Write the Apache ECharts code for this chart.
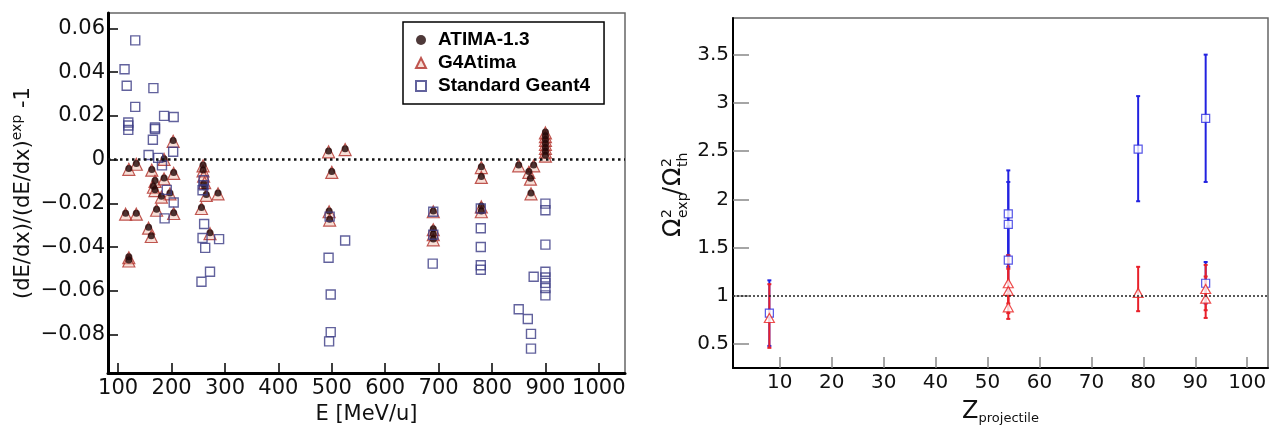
<!DOCTYPE html>
<html>
<head>
<meta charset="utf-8">
<script src="https://cdn.jsdelivr.net/npm/echarts@6/dist/echarts.min.js"></script>
<style>
	html, body { margin: 0; padding: 0; background: #fff; }
	#main { width: 1270px; height: 430px; }
</style>
</head>
<body>
<div id="main"></div>
<script>
	// 左图: 刻度
	var energyTicks = [100, 200, 300, 400, 500, 600, 700, 800, 900, 1000];
	var ratioTicks = [-0.08, -0.06, -0.04, -0.02, 0, 0.02, 0.04, 0.06];
	var legendNames = ['ATIMA-1.3', 'G4Atima', 'Standard Geant4'];

	// 左图: [E (MeV/u), (dE/dx)/(dE/dx)exp - 1]
	var atimaPoints = [
		[120, -0.0040], [134, -0.0018], [114, -0.0245], [134, -0.0245], [120, -0.0443], [120, -0.0458],
		[157, -0.0309], [162, -0.0347], [163, -0.0045], [169, -0.0095], [166, -0.0122], [169, -0.0137],
		[186, -0.0084], [186, 0.0004], [197, -0.0152], [181, -0.0167], [172, -0.0227], [204, -0.0242],
		[203, 0.0088], [204, -0.0059], [259, -0.0024], [259, -0.0047], [260, -0.0110], [262, -0.0125],
		[265, -0.0159], [287, -0.0152], [256, -0.0219], [272, -0.0334],
		[494, 0.0040], [525, 0.0050], [500, -0.0054], [495, -0.0234], [496, -0.0272],
		[690, -0.0234], [690, -0.0316], [690, -0.0339], [690, -0.0362],
		[780, -0.0032], [780, -0.0077], [780, -0.0212], [780, -0.0234],
		[850, -0.0024], [869, -0.0054], [872, -0.0085], [878, -0.0024], [873, -0.0152],
		[900, 0.0126], [900, 0.0109], [900, 0.0092], [900, 0.0074], [900, 0.0056], [900, 0.0038], [900, 0.0020]
	];
	var g4atimaPoints = [
		[120, -0.0044], [134, -0.0021], [114, -0.0249], [134, -0.0249], [120, -0.0448], [120, -0.0463],
		[157, -0.0313], [162, -0.0351], [163, -0.0048], [169, -0.0099], [166, -0.0126], [169, -0.0141],
		[186, -0.0088], [186, 0.0001], [197, -0.0156], [181, -0.0171], [172, -0.0231], [204, -0.0246],
		[203, 0.0084], [204, -0.0063], [259, -0.0028], [259, -0.0051], [260, -0.0075], [262, -0.0105],
		[265, -0.0163], [287, -0.0156], [256, -0.0223], [272, -0.0338],
		[494, 0.0036], [525, 0.0046], [500, -0.0058], [495, -0.0238], [496, -0.0276],
		[690, -0.0238], [690, -0.0320], [690, -0.0343], [690, -0.0366],
		[780, -0.0036], [780, -0.0081], [780, -0.0216], [780, -0.0238],
		[850, -0.0028], [869, -0.0058], [872, -0.0089], [878, -0.0028], [873, -0.0156],
		[900, 0.0122], [900, 0.0105], [900, 0.0088], [900, 0.0070], [900, 0.0052], [900, 0.0034], [900, 0.0016]
	];
	var geant4Points = [
		[132, 0.0545], [112, 0.0413], [116, 0.0338], [166, 0.0327], [132, 0.0241], [186, 0.0200],
		[204, 0.0195], [119, 0.0170], [119, 0.0156], [119, 0.0136], [169, 0.0147], [169, 0.0140],
		[165, 0.0091], [203, 0.0036], [157, 0.0021], [175, 0.0008], [182, -0.0026], [191, -0.0138],
		[204, -0.0196], [187, -0.0268], [260, -0.0094], [260, -0.0117], [258, -0.0140], [261, -0.0294],
		[258, -0.0358], [289, -0.0363], [263, -0.0403], [272, -0.0512], [256, -0.0558],
		[494, -0.0448], [525, -0.0369], [498, -0.0616], [498, -0.0788], [495, -0.0830], [496, -0.0260],
		[689, -0.0475], [690, -0.0238], [690, -0.0343],
		[779, -0.0223], [779, -0.0313], [779, -0.0399], [779, -0.0482], [779, -0.0503],
		[900, -0.0201], [900, -0.0231], [900, -0.0388], [878, -0.0535], [900, -0.0512], [900, -0.0538],
		[900, -0.0563], [900, -0.0587], [900, -0.0620],
		[850, -0.0683], [867, -0.0728], [873, -0.0796], [873, -0.0863]
	];

	// 右图: 刻度
	var zTicks = [10, 20, 30, 40, 50, 60, 70, 80, 90, 100];
	var omegaTicks = [0.5, 1, 1.5, 2, 2.5, 3, 3.5];

	// 右图: [Z, 值, 误差下限, 误差上限]
	var omegaBlue = [
		[8, 0.82, 0.48, 1.16],
		[54, 1.85, 1.42, 2.30], [54, 1.74, 1.30, 2.18], [54, 1.37, 1.05, 1.72],
		[79, 2.52, 1.98, 3.07],
		[92, 2.84, 2.18, 3.50], [92, 1.13, 0.92, 1.35]
	];
	var omegaRed = [
		[8, 0.77, 0.46, 1.12],
		[54, 1.13, 0.92, 1.42], [54, 1.05, 0.82, 1.28], [54, 0.88, 0.76, 1.02],
		[79, 1.03, 0.84, 1.30],
		[92, 1.07, 0.85, 1.32], [92, 0.97, 0.77, 1.20]
	];

	var tickFont = 'DejaVu Sans';

	function ratioLabel(v) {
		if (Math.abs(v) < 1e-9) return '0';
		return (v < 0 ? '\u2212' : '') + Math.abs(v).toFixed(2);
	}

	function plainLabel(v) {
		return String(v);
	}

	function errorBars(points, color) {
		return {
			type: 'custom',
			xAxisIndex: 1,
			yAxisIndex: 1,
			silent: true,
			data: points.map(function (p) { return [p[0], p[2], p[3]]; }),
			encode: { x: 0, y: [1, 2] },
			renderItem: function (params, api) {
				var lo = api.coord([api.value(0), api.value(1)]);
				var hi = api.coord([api.value(0), api.value(2)]);
				var st = { stroke: color, lineWidth: 2 };
				return {
					type: 'group',
					children: [
						{ type: 'line', shape: { x1: lo[0], y1: lo[1], x2: hi[0], y2: hi[1] }, style: st },
						{ type: 'line', shape: { x1: lo[0] - 2, y1: lo[1], x2: lo[0] + 2, y2: lo[1] }, style: st },
						{ type: 'line', shape: { x1: hi[0] - 2, y1: hi[1], x2: hi[0] + 2, y2: hi[1] }, style: st }
					]
				};
			}
		};
	}

	var chart = echarts.init(document.getElementById('main'));

	var option = {
		animation: false,
		backgroundColor: '#fff',
		grid: [
			{ left: 108, top: 13, width: 517, height: 365, show: true, borderColor: '#666', borderWidth: 1.5 },
			{ left: 733, top: 18, width: 535, height: 359, show: true, borderColor: '#666', borderWidth: 1.5 }
		],
		legend: {
			data: legendNames,
			left: 403,
			top: 22,
			orient: 'vertical',
			padding: [8, 14, 8, 12],
			itemGap: 3,
			itemWidth: 10,
			itemHeight: 10,
			borderColor: '#000',
			borderWidth: 1.5,
			backgroundColor: '#fff',
			selectedMode: false,
			textStyle: {
				fontFamily: 'Liberation Sans', fontWeight: 'bold', fontSize: 19, lineHeight: 20,
				color: '#000', padding: [0, 0, 0, 7]
			}
		},
		xAxis: [{
			type: 'value', gridIndex: 0, min: 81, max: 1049,
			axisLine: { onZero: false, lineStyle: { color: '#000', width: 3 } },
			axisTick: { inside: true, length: 10, customValues: energyTicks, lineStyle: { color: '#000', width: 1.5 } },
			axisLabel: { customValues: energyTicks, margin: 5, fontFamily: tickFont, fontSize: 21, color: '#111', formatter: plainLabel },
			splitLine: { show: false },
			name: 'E [MeV/u]', nameLocation: 'middle', nameGap: 17,
			nameTextStyle: { fontFamily: tickFont, fontSize: 21, lineHeight: 21, color: '#111' }
		}, {
			type: 'value', gridIndex: 1, min: 1, max: 104,
			axisLine: { onZero: false, lineStyle: { color: '#000', width: 2 } },
			axisTick: { inside: true, length: 11, customValues: zTicks, lineStyle: { color: '#888', width: 1.5 } },
			axisLabel: { customValues: zTicks, margin: 5, fontFamily: tickFont, fontSize: 20, color: '#111', formatter: plainLabel },
			splitLine: { show: false },
			name: 'Z{s|projectile}', nameLocation: 'middle', nameGap: 24,
			nameTextStyle: {
				fontFamily: tickFont, fontSize: 24, lineHeight: 24, color: '#111',
				rich: { s: { fontFamily: tickFont, fontSize: 13, lineHeight: 13, padding: [14, 0, 0, 0], color: '#111' } }
			}
		}],
		yAxis: [{
			type: 'value', gridIndex: 0, min: -0.0975, max: 0.067,
			axisLine: { onZero: false, lineStyle: { color: '#000', width: 3 } },
			axisTick: { inside: true, length: 10, customValues: ratioTicks, lineStyle: { color: '#000', width: 1.5 } },
			axisLabel: { customValues: ratioTicks, margin: 3, fontFamily: tickFont, fontSize: 21, color: '#111', formatter: ratioLabel },
			splitLine: { show: false },
			name: '(dE/dx)/(dE/dx){sup|exp} -1', nameLocation: 'middle', nameGap: 69,
			nameTextStyle: {
				fontFamily: tickFont, fontSize: 21, lineHeight: 22, color: '#111',
				rich: { sup: { fontFamily: tickFont, fontSize: 14, lineHeight: 14, padding: [0, 0, 12, 0], color: '#111' } }
			}
		}, {
			type: 'value', gridIndex: 1, min: 0.25, max: 3.88,
			axisLine: { onZero: false, lineStyle: { color: '#000', width: 2 } },
			axisTick: { inside: true, length: 16, customValues: omegaTicks, lineStyle: { color: '#888', width: 1.5 } },
			axisLabel: { customValues: omegaTicks, margin: 4, fontFamily: tickFont, fontSize: 20, color: '#111', formatter: plainLabel },
			splitLine: { show: false }
		}],
		graphic: [{
			type: 'group',
			x: 674,
			y: 237,
			rotation: Math.PI / 2,
			silent: true,
			children: [
				{ type: 'text', x: 0, y: 0, style: { text: '\u03A9', font: '24px "DejaVu Sans"', fill: '#111', textVerticalAlign: 'middle' } },
				{ type: 'text', x: 19, y: -7, style: { text: '2', font: '14px "DejaVu Sans"', fill: '#111', textVerticalAlign: 'middle' } },
				{ type: 'text', x: 19, y: 9, style: { text: 'exp', font: '14px "DejaVu Sans"', fill: '#111', textVerticalAlign: 'middle' } },
				{ type: 'text', x: 42, y: 0, style: { text: '/', font: '24px "DejaVu Sans"', fill: '#111', textVerticalAlign: 'middle' } },
				{ type: 'text', x: 51, y: 0, style: { text: '\u03A9', font: '24px "DejaVu Sans"', fill: '#111', textVerticalAlign: 'middle' } },
				{ type: 'text', x: 70, y: -7, style: { text: '2', font: '14px "DejaVu Sans"', fill: '#111', textVerticalAlign: 'middle' } },
				{ type: 'text', x: 70, y: 9, style: { text: 'th', font: '14px "DejaVu Sans"', fill: '#111', textVerticalAlign: 'middle' } }
			]
		}],
		series: [{
			name: 'G4Atima', type: 'scatter', xAxisIndex: 0, yAxisIndex: 0, silent: true,
			symbol: 'triangle', symbolSize: 12,
			itemStyle: { color: 'rgba(232,165,145,0.45)', borderColor: '#b02e28', borderWidth: 1.2 },
			data: g4atimaPoints,
			markLine: {
				silent: true, symbol: 'none', label: { show: false },
				lineStyle: { type: [2.5, 3.5], color: '#111', width: 2.5 },
				data: [{ yAxis: 0 }]
			}
		}, {
			name: 'ATIMA-1.3', type: 'scatter', xAxisIndex: 0, yAxisIndex: 0, silent: true,
			symbol: 'circle', symbolSize: 7,
			itemStyle: { color: '#220808' },
			data: atimaPoints
		}, {
			name: 'Standard Geant4', type: 'scatter', xAxisIndex: 0, yAxisIndex: 0, silent: true,
			symbol: 'rect', symbolSize: 9,
			itemStyle: { color: 'rgba(255,255,255,0)', borderColor: '#3b3b85', borderWidth: 1.4 },
			data: geant4Points
		},
		errorBars(omegaBlue, '#2222e0'),
		errorBars(omegaRed, '#e8202a'),
		{
			name: 'omegaBlue', type: 'scatter', xAxisIndex: 1, yAxisIndex: 1, silent: true,
			symbol: 'rect', symbolSize: 8,
			itemStyle: { color: '#fff', borderColor: '#2a2ae0', borderWidth: 1.2 },
			data: omegaBlue.map(function (p) { return [p[0], p[1]]; })
		}, {
			name: 'omegaRed', type: 'scatter', xAxisIndex: 1, yAxisIndex: 1, silent: true,
			symbol: 'triangle', symbolSize: [10, 9],
			itemStyle: { color: '#fff', borderColor: '#e82020', borderWidth: 1.2 },
			data: omegaRed.map(function (p) { return [p[0], p[1]]; }),
			markLine: {
				silent: true, symbol: 'none', label: { show: false },
				lineStyle: { type: [2, 2], color: '#222', width: 1.5 },
				data: [{ yAxis: 1 }]
			}
		}]
	};

	chart.setOption(option);
</script>
</body>
</html>
